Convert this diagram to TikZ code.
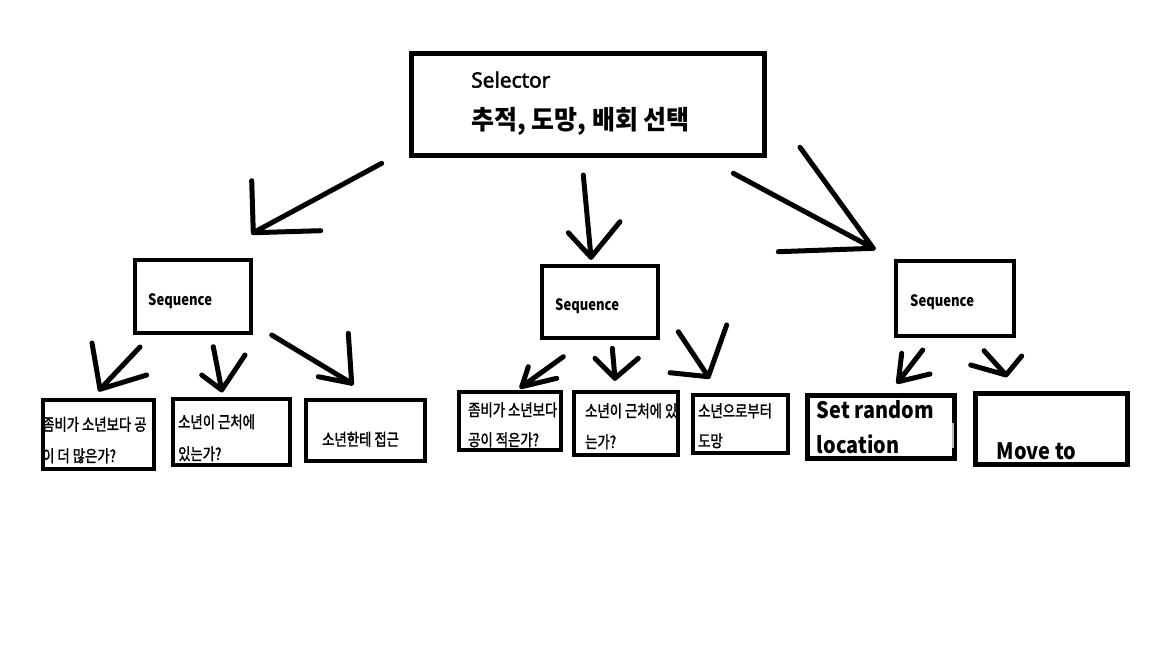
\documentclass[tikz,border=0pt]{standalone}
\usepackage{fontspec}
\newfontfamily\krtop{Noto Sans CJK KR}[FakeStretch=0.95]
\newfontfamily\krleaf{Noto Sans CJK KR}[FakeStretch=0.81,FakeBold=1.6]
\newfontfamily\latbold{Noto Sans CJK KR}[FakeStretch=0.88]
\newfontfamily\seqfont{Noto Sans CJK KR}[FakeStretch=0.83]
\newfontfamily\selfont{Open Sans}[FakeBold=2.5]
\tikzset{
  boxa/.style={draw,line width=4pt,inner sep=0pt},
  boxb/.style={draw,line width=5pt,inner sep=0pt},
  arr/.style={line width=5pt,line cap=round,line join=round},
  txt/.style={anchor=base west,inner sep=0pt},
  leaftxt/.style={txt,font=\krleaf\fontsize{16.5}{16.5}\selectfont},
  seqtxt/.style={txt,font=\seqfont\bfseries\fontsize{15.7}{15.7}\selectfont},
  bigtxt/.style={txt,font=\latbold\bfseries\fontsize{22.6}{22.6}\selectfont},
}
\newcommand\harrow[5]{%
  \coordinate (#1t) at #2; \coordinate (#1p) at #3;
  \coordinate (#1a) at #4; \coordinate (#1b) at #5;
  \draw[arr] (#1t) -- (#1p) (#1a) -- (#1p) (#1b) -- (#1p);}
\begin{document}
\begin{tikzpicture}[x=1pt,y=-1pt]
\useasboundingbox (0,0) rectangle (1152,648);
\fill[white] (0,0) rectangle (1152,648);
% boxes
\node[boxb,minimum width=352.4pt,minimum height=102.3pt] (sel) at (588,104.7) {};
\node[boxa,minimum width=116.6pt,minimum height=72.7pt] (seq1) at (193,296.7) {};
\node[boxa,minimum width=116pt,minimum height=72pt] (seq2) at (600,302) {};
\node[boxa,minimum width=117.4pt,minimum height=75.3pt] (seq3) at (955,298.7) {};
\node[boxa,minimum width=111pt,minimum height=68.7pt] (l1) at (98.5,434.7) {};
\node[boxa,minimum width=117pt,minimum height=66pt] (l2) at (231.2,431.7) {};
\node[boxa,minimum width=119pt,minimum height=60.4pt] (l3) at (365.8,430.5) {};
\node[boxa,minimum width=102pt,minimum height=58.3pt] (m1) at (510.3,421.2) {};
\node[boxa,minimum width=103.7pt,minimum height=63.3pt] (m2) at (626.2,423.7) {};
\node[boxa,minimum width=95.3pt,minimum height=58.3pt] (m3) at (740.3,423.8) {};
\node[boxb,minimum width=146.7pt,minimum height=62.4pt] (r1) at (880.8,427) {};
\node[boxb,minimum width=151.7pt,minimum height=71pt] (r2) at (1051.7,428.7) {};
\fill[gray!55] (952.2,423) rectangle (954.4,448);
% texts
\node[txt,font=\selfont\fontsize{21}{21}\selectfont] (selA) at (471,87.5) {Selector};
\node[txt,font=\krtop\bfseries\fontsize{26.3}{26.3}\selectfont] (selB) at (471,129.5) {추적, 도망, 배회 선택};
\node[seqtxt] (s1t) at (148,305.7) {Sequence};
\node[seqtxt] (s2t) at (555,310) {Sequence};
\node[seqtxt] (s3t) at (910,306.7) {Sequence};
\node[leaftxt] (l1a) at (42,430.5) {좀비가 소년보다 공};
\node[leaftxt] (l1b) at (42,462) {이 더 많은가?};
\node[leaftxt] (l2a) at (178,428) {소년이 근처에};
\node[leaftxt] (l2b) at (178,460) {있는가?};
\node[leaftxt] (l3a) at (322,445.5) {소년한테 접근};
\node[leaftxt] (m1a) at (468,416) {좀비가 소년보다};
\node[leaftxt] (m1b) at (468,446) {공이 적은가?};
\node[leaftxt] (m2a) at (585,417) {소년이 근처에 있};
\node[leaftxt] (m2b) at (585,448) {는가?};
\node[leaftxt] (m3a) at (698,417) {소년으로부터};
\node[leaftxt] (m3b) at (698,447) {도망};
\node[bigtxt] (r1a) at (816.7,418.3) {Set random};
\node[bigtxt] (r1b) at (816.7,453.3) {location};
\node[bigtxt] (r2a) at (996.7,459) {Move to};
% hand-drawn arrows
\harrow{aa}{(381.7,163.3)}{(253.3,232.7)}{(251.7,180.7)}{(320.7,230.7)}
\harrow{ab}{(583.3,175)}{(591,257.3)}{(568.3,232.7)}{(620,221.7)}
\harrow{ac}{(733.3,173.3)}{(873.3,248.3)}{(800,147.3)}{(778.3,251.7)}
\harrow{ad}{(140,347)}{(100,389.3)}{(92,343)}{(146.7,375)}
\harrow{ae}{(213.3,346.7)}{(221.7,390)}{(201.7,375)}{(245,355)}
\harrow{af}{(271.7,335)}{(351.7,383.3)}{(348.3,333.3)}{(318.3,376.7)}
\harrow{ag}{(563.3,356.7)}{(521.7,386.7)}{(528.3,366.7)}{(556.7,378.3)}
\harrow{ah}{(612.3,348.3)}{(615,378.3)}{(595,358.3)}{(638.3,358.3)}
\harrow{ai}{(678.3,331.7)}{(708.3,376.7)}{(726.7,325)}{(670,372.7)}
\harrow{aj}{(922.7,350)}{(898.3,381.7)}{(901.7,353.3)}{(930,374)}
\harrow{ak}{(984,350.7)}{(1006,375)}{(970.7,365)}{(1021.7,356)}
\end{tikzpicture}
\end{document}
